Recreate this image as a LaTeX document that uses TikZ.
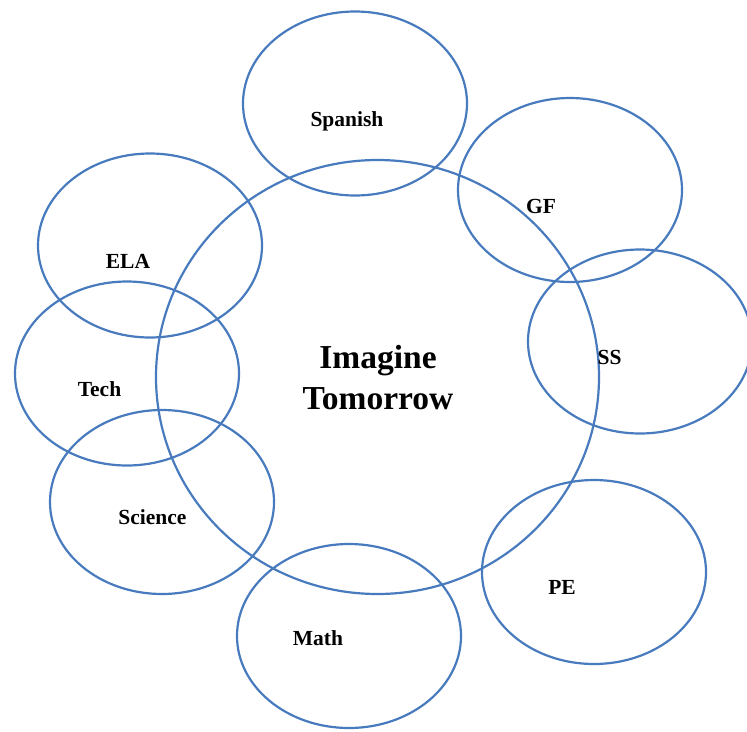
\documentclass[tikz,border=0pt]{standalone}
\usepackage{fontspec}
\setmainfont{Liberation Serif}
\usepackage{tikz}
\usetikzlibrary{shapes.geometric, positioning}
\definecolor{ringblue}{RGB}{72,122,190}
\tikzstyle{subject}=[ellipse, draw=ringblue, line width=2.2pt, minimum width=224pt, minimum height=184pt, inner sep=0pt]
\tikzstyle{core}=[ellipse, draw=ringblue, line width=2.2pt, minimum width=443pt, minimum height=434pt, inner sep=0pt]
\tikzstyle{tag}=[anchor=base, inner sep=0pt, font=\bfseries\fontsize{21.5}{24}\selectfont]
\tikzstyle{title}=[align=center, inner sep=0pt, font=\bfseries\fontsize{33.5}{41}\selectfont]

\begin{document}
\begin{tikzpicture}[x=1pt, y=-1pt]
    \useasboundingbox (0,0) rectangle (747,731);

    \node[core] (imagine) at (377.5,377) {};
    \node[title] (imagineT) at (378,378) {Imagine\\Tomorrow};

    \node[subject] (spanish) at (355,103.5) {};
    \node[subject] (gf) at (570,190) {};
    \node[subject] (ss) at (640,341.5) {};
    \node[subject] (pe) at (594,572) {};
    \node[subject] (math) at (349,636) {};
    \node[subject] (science) at (162,502) {};
    \node[subject] (tech) at (127,373.5) {};
    \node[subject] (ela) at (150,245.5) {};

    \node[tag] (spanishT) at (347,126) {Spanish};
    \node[tag] (gfT) at (541,213) {GF};
    \node[tag] (ssT) at (609.5,364) {SS};
    \node[tag] (peT) at (562,594) {PE};
    \node[tag] (mathT) at (318,645) {Math};
    \node[tag] (scienceT) at (152.5,524) {Science};
    \node[tag] (techT) at (99.5,396) {Tech};
    \node[tag] (elaT) at (128,268) {ELA};
  \end{tikzpicture}
\end{document}
